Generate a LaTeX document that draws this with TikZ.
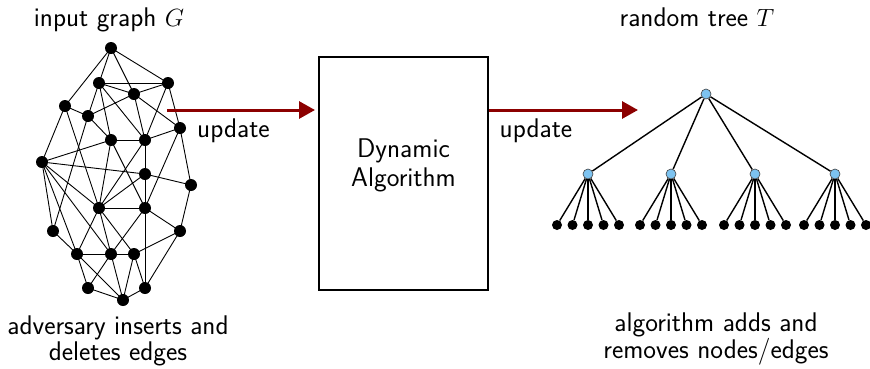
\documentclass[tikz,border=0pt]{standalone}
\usetikzlibrary{arrows.meta}
\definecolor{arrowred}{RGB}{140,0,0}
\definecolor{treeblue}{RGB}{125,195,240}
\tikzset{
  gnode/.style={circle,fill=black,inner sep=0pt,minimum size=12pt},
  gedge/.style={line width=0.9pt},
  tinner/.style={circle,fill=treeblue,draw=black!75,line width=0.6pt,inner sep=0pt,minimum size=10pt},
  tleaf/.style={circle,fill=black,inner sep=0pt,minimum size=10pt},
  tedge/.style={line width=1.4pt},
  bigarrow/.style={draw=arrowred,line width=3pt,-{Triangle[length=16pt,width=17pt]}},
  lbl/.style={font=\sffamily\fontsize{27}{24}\selectfont,inner sep=0pt,anchor=base,align=center},
}
\begin{document}
\begin{tikzpicture}[x=1pt,y=-1pt]
\useasboundingbox (0,0) rectangle (870,368);

% ---- input graph ----
\foreach \n/\x/\y in {A/111/48,B/99/83,C/168/83,D/134/94,E/65/106,F/88/116,
  G/180/128,H/111/140,I/145/140,J/42/162,K/145/174,L/191/185,M/99/208,
  N/145/208,O/53/231,P/180/231,Q/77/254,R/111/254,S/134/254,T/88/288,
  U/123/300,V/145/288}
  \coordinate (g\n) at (\x,\y);
\foreach \a/\b in {A/B,A/C,A/D,A/E,B/C,B/D,B/F,B/H,B/I,C/D,C/G,C/I,
  D/F,D/G,D/I,E/F,E/J,E/M,F/H,F/O,G/I,G/L,G/N,H/I,H/J,H/M,H/N,I/K,I/M,
  J/K,J/O,J/Q,J/M,J/R,K/N,K/L,K/M,L/P,M/N,M/Q,M/R,M/S,N/R,N/P,N/V,O/Q,
  P/S,P/V,Q/R,Q/T,Q/U,R/S,R/T,R/U,S/U,S/V,T/U,U/V}
  \draw[gedge] (g\a) -- (g\b);
\foreach \n in {A,B,C,D,E,F,G,H,I,J,K,L,M,N,O,P,Q,R,S,T,U,V}
  \node[gnode] (n\n) at (g\n) {};

% ---- algorithm box ----
\node[draw,line width=2pt,minimum width=169pt,minimum height=233pt,inner sep=0pt] (alg) at (403.5,173.5) {};
\node[lbl] (algtxt1) at (403.5,157) {Dynamic};
\node[lbl] (algtxt2) at (403.5,186) {Algorithm};

% ---- arrows ----
\coordinate (a1s) at (167,110);
\coordinate (a1e) at (315,110);
\coordinate (a2s) at (489,110);
\coordinate (a2e) at (638,110);
\draw[bigarrow] (a1s) -- (a1e);
\draw[bigarrow] (a2s) -- (a2e);
\node[lbl] (up1) at (233.5,137) {update};
\node[lbl] (up2) at (536,137) {update};

% ---- random tree ----
\node[tinner] (root) at (706,94) {};
\foreach \i/\cx in {1/588,2/671,3/755,4/835}{
  \node[tinner] (m\i) at (\cx,174) {};
  \draw[tedge] (root) -- (m\i);
  \foreach \j/\dx in {1/-31,2/-15.5,3/0,4/15.5,5/31}{
    \node[tleaf] (l\i\j) at (\cx+\dx,225) {};
    \draw[tedge] (m\i) -- (l\i\j);
  }
}

% ---- captions ----
\node[lbl] (cap1) at (109,26) {input graph $G$};
\node[lbl] (cap2) at (697,26) {random tree $T$};
\node[lbl] (cap3) at (118,360) {adversary inserts and\\deletes edges};
\node[lbl] (cap4) at (716,358) {algorithm adds and\\removes nodes/edges};
\end{tikzpicture}
\end{document}
